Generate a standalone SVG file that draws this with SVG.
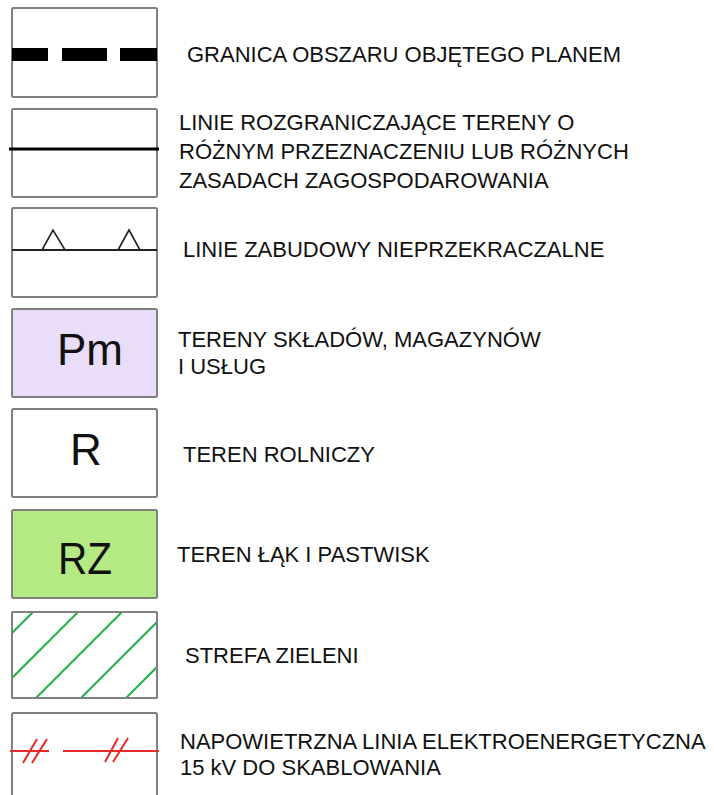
<svg xmlns="http://www.w3.org/2000/svg" width="714" height="795" viewBox="0 0 714 795">
  <style>
    .frame { fill: #ffffff; stroke: #808080; stroke-width: 2; }
    .label { font-family: "Liberation Sans", Arial, sans-serif; font-size: 22px; fill: #111111; }
    .code { font-family: "Liberation Sans", Arial, sans-serif; font-size: 44px; fill: #111111; text-anchor: middle; }
    .hatch { stroke: #22b04a; stroke-width: 2; }
    .power { stroke: #e52a2a; stroke-width: 2; fill: none; }
  </style>
  <defs>
    <clipPath id="clip-zone">
      <rect x="12" y="612" width="145" height="86"/>
    </clipPath>
  </defs>
  <rect width="714" height="795" fill="#ffffff"/>

  <!-- plan boundary -->
  <g id="plan-boundary">
    <rect class="frame" x="12" y="8" width="145" height="89" rx="1.5"/>
    <rect x="12" y="48" width="36" height="13" fill="#000"/>
    <rect x="62" y="48" width="45" height="13" fill="#000"/>
    <rect x="120" y="48" width="37" height="13" fill="#000"/>
    <text class="label" x="187" y="62">GRANICA OBSZARU OBJĘTEGO PLANEM</text>
  </g>

  <!-- dividing lines -->
  <g id="dividing-lines">
    <rect class="frame" x="12" y="109" width="145" height="88" rx="1.5"/>
    <line x1="9" y1="149" x2="159" y2="149" stroke="#000" stroke-width="3"/>
    <text class="label" x="179" y="130">LINIE ROZGRANICZAJĄCE TERENY O</text>
    <text class="label" x="179" y="159">RÓŻNYM PRZEZNACZENIU LUB RÓŻNYCH</text>
    <text class="label" x="179" y="188">ZASADACH ZAGOSPODAROWANIA</text>
  </g>

  <!-- building lines -->
  <g id="building-lines">
    <rect class="frame" x="12" y="208" width="145" height="89" rx="1.5"/>
    <line x1="12" y1="250" x2="157" y2="250" stroke="#222" stroke-width="2"/>
    <polyline points="42,250 53,230 65,250" fill="none" stroke="#222" stroke-width="1.6"/>
    <polyline points="118,250 129,230 140,250" fill="none" stroke="#222" stroke-width="1.6"/>
    <text class="label" x="183" y="257">LINIE ZABUDOWY NIEPRZEKRACZALNE</text>
  </g>

  <!-- storage and services -->
  <g id="zone-pm">
    <rect class="frame" x="12" y="309" width="145" height="88" rx="1.5" style="fill:#e9ddfa"/>
    <text class="code" x="90" y="365">Pm</text>
    <text class="label" x="178" y="347">TERENY SKŁADÓW, MAGAZYNÓW</text>
    <text class="label" x="178" y="374">I USŁUG</text>
  </g>

  <!-- agricultural -->
  <g id="zone-r">
    <rect class="frame" x="12" y="409" width="145" height="88" rx="1.5"/>
    <text class="code" x="86" y="465">R</text>
    <text class="label" x="183" y="462">TEREN ROLNICZY</text>
  </g>

  <!-- meadows and pastures -->
  <g id="zone-rz">
    <rect class="frame" x="12" y="510" width="145" height="88" rx="1.5" style="fill:#b5e983"/>
    <text class="code" x="85" y="574" font-size="46" textLength="54" lengthAdjust="spacingAndGlyphs">RZ</text>
    <text class="label" x="177" y="562">TEREN ŁĄK I PASTWISK</text>
  </g>

  <!-- green zone -->
  <g id="green-zone">
    <rect class="frame" x="12" y="612" width="145" height="86" rx="1.5"/>
    <g class="hatch" clip-path="url(#clip-zone)">
      <line x1="0" y1="645" x2="80" y2="565"/>
      <line x1="0" y1="690" x2="120" y2="570"/>
      <line x1="20" y1="714" x2="140" y2="594"/>
      <line x1="60" y1="719" x2="180" y2="599"/>
      <line x1="105" y1="719" x2="225" y2="599"/>
    </g>
    <rect x="12" y="612" width="145" height="86" rx="1.5" fill="none" stroke="#808080" stroke-width="2"/>
    <text class="label" x="185" y="663">STREFA ZIELENI</text>
  </g>

  <!-- overhead power line -->
  <g id="power-line">
    <rect class="frame" x="12" y="713" width="145" height="90" rx="1.5"/>
    <line class="power" x1="10" y1="751" x2="49" y2="751"/>
    <line class="power" x1="63" y1="751" x2="159" y2="751"/>
    <line class="power" x1="23" y1="763" x2="37" y2="739"/>
    <line class="power" x1="32" y1="763" x2="47" y2="739"/>
    <line class="power" x1="105" y1="762" x2="118" y2="738"/>
    <line class="power" x1="113" y1="762" x2="128" y2="738"/>
    <text class="label" x="180" y="749">NAPOWIETRZNA LINIA ELEKTROENERGETYCZNA</text>
    <text class="label" x="180" y="775">15 kV DO SKABLOWANIA</text>
  </g>
</svg>
